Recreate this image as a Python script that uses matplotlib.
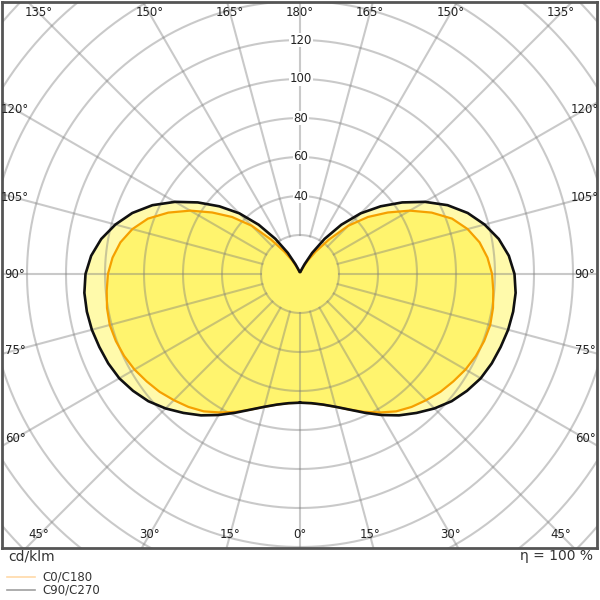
import numpy as np
import matplotlib
matplotlib.use("Agg")
import matplotlib.pyplot as plt
from matplotlib.lines import Line2D

# luminous intensity distribution, cd/klm
# gamma: 0 = straight down, 180 = straight up
gamma = np.arange(0, 181, 5)
c90_c270 = [66, 66.5, 68, 70.5, 74, 78.5, 83.5, 88.5, 93, 97.5, 101.5, 104.5,
            107, 108.5, 109.5, 110.5, 111, 111, 110, 107.5, 103.5, 98, 91.5,
            83.5, 74, 64, 54, 44, 33, 22, 12.5, 5.5, 2.5, 1.5, 1, 1, 1]
c0_c180 = [66, 66.5, 68, 70.5, 74, 78, 82, 86, 89, 91.5, 94, 96, 98, 99.5,
           100.5, 101, 100.5, 99.5, 98.5, 96.5, 93.5, 89, 83, 74.5, 65, 55,
           45.5, 35, 23, 14, 8, 4, 2, 1.5, 1, 1, 1]

ring_values = np.arange(20, 221, 20)
ring_labels = [40, 60, 80, 100, 120]
spoke_angles = np.arange(0, 360, 15)
angle_labels = [0, 15, 30, 45, 60, 75, 90, 105, 120, 135, 150, 165, 180]
unit_text = "cd/klm"
eff_text = "η = 100 %"
legend_names = ["C0/C180", "C90/C270"]
legend_colors = ["#ffd9a8", "#a0a0a0"]


def to_xy(vals):
    g = np.radians(gamma)
    v = np.asarray(vals, dtype=float)
    xr = v * np.sin(g)
    yr = -v * np.cos(g)
    x = np.concatenate([xr, -xr[::-1]])
    y = np.concatenate([yr, yr[::-1]])
    return x, y


fig = plt.figure(figsize=(6, 6), dpi=100)
ax = fig.add_axes([2 / 600, 52 / 600, 595 / 600, 546 / 600])
ax.set_xlim(-298 / 1.95, 297 / 1.95)
ax.set_ylim(-274 / 1.95, 272 / 1.95)
ax.set_xticks([])
ax.set_yticks([])
for sp in ax.spines.values():
    sp.set_color("#555555")
    sp.set_linewidth(2)

# fills
bx, by = to_xy(c90_c270)
ox, oy = to_xy(c0_c180)
ax.fill(bx, by, color="#fffaab", lw=0, zorder=1)
ax.fill(ox, oy, color="#fff46e", lw=0, zorder=1.1)

# grid
t = np.linspace(0, 2 * np.pi, 400)
for r in ring_values:
    ax.plot(r * np.cos(t), r * np.sin(t), color="#7a7a7a", alpha=0.4,
            lw=1.5, zorder=2)
for a in spoke_angles:
    ar = np.radians(a)
    ax.plot([20 * np.sin(ar), 230 * np.sin(ar)],
            [-20 * np.cos(ar), -230 * np.cos(ar)],
            color="#7a7a7a", alpha=0.4, lw=1.5, zorder=2)

# curves
ax.plot(ox, oy, color="#f5a000", lw=1.6, zorder=3)
ax.plot(bx, by, color="#111111", lw=1.9, zorder=4)

# ring value labels
for r in ring_labels:
    ax.text(0.5, r, str(r), ha="center", va="center", fontsize=8.5,
            color="#222222", zorder=5,
            bbox=dict(facecolor="white", edgecolor="none", pad=0.3))

# angle labels along the frame
lx = 285 / 1.95
ly = 261 / 1.95
for a in angle_labels:
    ar = np.radians(a)
    sides = [1, -1] if 0 < a < 180 else [1]
    for s in sides:
        dx = s * np.sin(ar)
        dy = -np.cos(ar)
        tt = []
        if abs(dx) > 1e-9:
            tt.append(lx / abs(dx))
        if abs(dy) > 1e-9:
            tt.append(ly / abs(dy))
        k = min(tt)
        ax.text(dx * k, dy * k, f"{a}°", ha="center", va="center",
                fontsize=8.5, color="#222222", zorder=6, clip_on=True)

fig.text(8 / 600, 1 - 556 / 600, unit_text, ha="left", va="center",
         fontsize=10, color="#333333")
fig.text(593 / 600, 1 - 556 / 600, eff_text, ha="right", va="center",
         fontsize=10, color="#333333")

for i, (name, col) in enumerate(zip(legend_names, legend_colors)):
    yy = 1 - (577 + 13 * i) / 600
    fig.add_artist(Line2D([7 / 600, 35 / 600], [yy, yy], color=col, lw=1.2))
    fig.text(42 / 600, yy, name, ha="left", va="center", fontsize=8.5,
             color="#333333")

fig.savefig("out.png", dpi=100)
